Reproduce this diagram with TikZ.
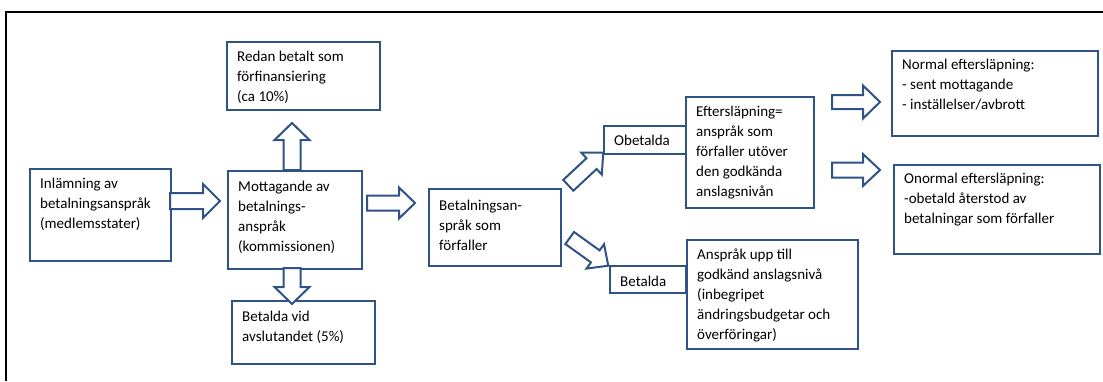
\documentclass[tikz,border=0pt]{standalone}
\usepackage{fontspec}
\setmainfont{Carlito}
\usetikzlibrary{calc}
\definecolor{bblue}{RGB}{47,82,135}
\newcommand\BlockArrow[7]{%
  \begin{scope}[shift={(#1,#2)},rotate=#3]
    \draw[barrow] (0,#5) -- ({#4-#7},#5) -- ({#4-#7},#6) -- (#4,0) -- ({#4-#7},-#6) -- ({#4-#7},-#5) -- (0,-#5) -- cycle;
  \end{scope}}
\tikzset{
  box/.style={draw=bblue, line width=2pt, fill=white, inner sep=0pt, anchor=north west, rectangle},
  txt/.style={anchor=north west, inner sep=0pt, align=left, font=\fontsize{15}{20}\selectfont, text=black},
  barrow/.style={draw=bblue, line width=2pt, fill=white, line join=miter},
}
\begin{document}
\begin{tikzpicture}[x=1pt,y=-1pt]
\useasboundingbox (0,0) rectangle (1103,381);
\draw[black, line width=1.6pt] (6,381) -- (6,12) -- (1103,12);

% boxes
\node[box, minimum width=153, minimum height=68] (redan) at (226,41) {};
\node[box, minimum width=141, minimum height=92] (inl) at (29,168) {};
\node[box, minimum width=134, minimum height=98] (mott) at (227,170) {};
\node[box, minimum width=143, minimum height=63] (betvid) at (231,300) {};
\node[box, minimum width=132, minimum height=77] (bfor) at (428,188) {};
\node[box, minimum width=82, minimum height=28] (obet) at (603,125) {};
\node[box, minimum width=76, minimum height=27] (bet) at (609,265) {};
\node[box, minimum width=128, minimum height=111] (eft) at (685,96) {};
\node[box, minimum width=171, minimum height=109] (ansp) at (686,239) {};
\node[box, minimum width=206, minimum height=85] (norm) at (891,50) {};
\node[box, minimum width=206, minimum height=89] (onorm) at (893,164) {};

% texts
\node[txt] (redan-t) at ($(redan.north west)+(11,6)$) {\strut Redan betalt som\\förfinansiering\\(ca 10\%)};
\node[txt] (inl-t) at ($(inl.north west)+(11,6)$) {\strut Inlämning av\\betalningsanspråk\\(medlemsstater)};
\node[txt] (mott-t) at ($(mott.north west)+(11,7)$) {\strut Mottagande av\\betalnings-\\anspråk\\(kommissionen)};
\node[txt] (betvid-t) at ($(betvid.north west)+(11,7)$) {\strut Betalda vid\\avslutandet (5\%)};
\node[txt] (bfor-t) at ($(bfor.north west)+(11,8)$) {\strut Betalningsan-\\språk som\\förfaller};
\node[txt] (obet-t) at ($(obet.north west)+(11,6)$) {\strut Obetalda};
\node[txt] (bet-t) at ($(bet.north west)+(11,7)$) {\strut Betalda};
\node[txt] (eft-t) at ($(eft.north west)+(11,6)$) {\strut Eftersläpning=\\anspråk som\\förfaller utöver\\den godkända\\anslagsnivån};
\node[txt] (ansp-t) at ($(ansp.north west)+(11,6)$) {\strut Anspråk upp till\\godkänd anslagsnivå\\(inbegripet\\ändringsbudgetar och\\överföringar)};
\node[txt] (norm-t) at ($(norm.north west)+(11,5)$) {\strut Normal eftersläpning:\\- sent mottagande\\- inställelser/avbrott};
\node[txt] (onorm-t) at ($(onorm.north west)+(11,5)$) {\strut Onormal eftersläpning:\\-obetald återstod av\\betalningar som förfaller};

% block arrows: x, y, angle, length, shaft half, head half, head length
\BlockArrow{170}{201}{0}{50}{8}{17}{17}
\BlockArrow{292}{170}{90}{47}{8.5}{17.5}{17}
\BlockArrow{292}{268}{-90}{36}{8.5}{17.5}{17}
\BlockArrow{367}{203}{0}{48}{7.5}{15.5}{16}
\BlockArrow{568.3}{185.3}{43}{47.8}{7.4}{15}{16}
\BlockArrow{569.7}{238}{-35.7}{47.5}{7.4}{15}{16}
\BlockArrow{832}{102}{0}{48}{7}{16.5}{17}
\BlockArrow{832}{170}{0}{48}{7.5}{16}{17}
\end{tikzpicture}
\end{document}
